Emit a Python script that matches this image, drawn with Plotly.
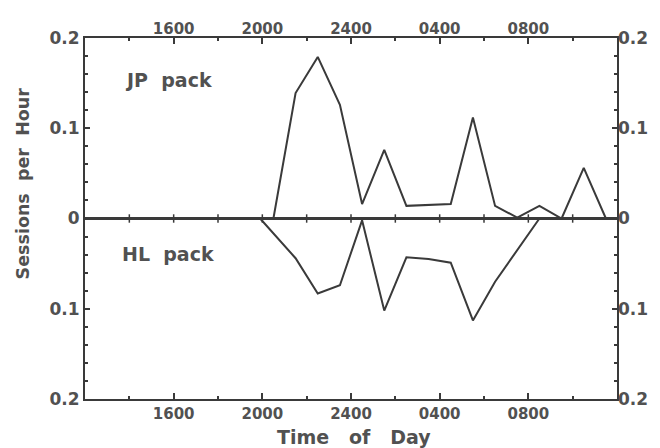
import plotly.graph_objects as go

# ---- data (hours measured from noon of day 1; 24 = midnight) ----
jp_hours = [20.5, 21.5, 22.5, 23.5, 24.5, 25.5, 26.5, 27.5, 28.5, 29.5, 30.5, 31.5, 32.5, 33.5, 34.5, 35.5]
jp_sessions = [0.0, 0.139, 0.179, 0.126, 0.016, 0.076, 0.014, 0.015, 0.016, 0.112, 0.014, 0.001, 0.014, 0.0, 0.056, 0.0]

hl_hours = [19.9, 21.5, 22.5, 23.5, 24.5, 25.5, 26.5, 27.5, 28.5, 29.5, 30.5, 31.5, 32.5]
hl_sessions = [0.0, 0.044, 0.083, 0.074, 0.002, 0.102, 0.043, 0.045, 0.049, 0.113, 0.070, 0.035, 0.0]

x_tick_vals = [16, 20, 24, 28, 32]
x_tick_text = ["1600", "2000", "2400", "0400", "0800"]
y_tick_vals = [-0.2, -0.1, 0, 0.1, 0.2]
y_tick_text = ["0.2", "0.1", "0", "0.1", "0.2"]
zero_line_ticks = [14, 16, 18, 20, 22, 24, 26, 28, 30, 32, 34]

INK = "#3a3a3a"
TXT = "#515151"
FONT = "DejaVu Sans"

fig = go.Figure()

fig.add_trace(go.Scatter(x=jp_hours, y=jp_sessions, mode="lines",
                         line=dict(color=INK, width=2), showlegend=False,
                         hoverinfo="skip"))
fig.add_trace(go.Scatter(x=hl_hours, y=[-v for v in hl_sessions], mode="lines",
                         line=dict(color=INK, width=2), showlegend=False,
                         hoverinfo="skip"))
# small tick marks along the zero line
fig.add_trace(go.Scatter(x=zero_line_ticks, y=[0] * len(zero_line_ticks), mode="markers",
                         marker=dict(symbol="line-ns", size=6,
                                     line=dict(color=INK, width=1.5)),
                         showlegend=False, hoverinfo="skip"))
# invisible trace on secondary axes
fig.add_trace(go.Scatter(x=[12, 36], y=[-0.2, 0.2], mode="markers",
                         marker=dict(opacity=0), xaxis="x2", yaxis="y2",
                         showlegend=False, hoverinfo="skip"))

xfont = dict(family=FONT, size=15, color=TXT, weight="bold")
yfont = dict(family=FONT, size=17, color=TXT, weight="bold")
lblfont = dict(family=FONT, size=19, color=TXT, weight="bold")

fig.update_layout(
    width=652, height=440,
    margin=dict(l=77, r=31, t=30, b=49),
    paper_bgcolor="white", plot_bgcolor="white",
    xaxis=dict(range=[12, 36], tickvals=x_tick_vals, ticktext=x_tick_text,
               ticklen=6, mirror="allticks",
               minor=dict(tick0=12, dtick=2, ticklen=3, ticks="inside",
                          tickcolor=INK, tickwidth=1.5),
               zeroline=False, showgrid=False, ticks="inside", tickcolor=INK,
               tickwidth=1.5, showline=True, linecolor=INK, linewidth=2,
               tickfont=xfont),
    xaxis2=dict(range=[12, 36], overlaying="x", side="top",
                tickvals=x_tick_vals, ticktext=x_tick_text,
                ticks="", showline=False, showgrid=False, zeroline=False,
                tickfont=xfont),
    yaxis=dict(range=[-0.2, 0.2], tickvals=y_tick_vals, ticktext=y_tick_text,
               ticklen=5, mirror="allticks",
               minor=dict(tick0=0, dtick=0.02, ticklen=3, ticks="inside",
                          tickcolor=INK, tickwidth=1.5),
               zeroline=True, zerolinecolor=INK, zerolinewidth=2.5,
               showgrid=False, showline=True, linecolor=INK, linewidth=2,
               ticks="inside", tickcolor=INK, tickwidth=1.5,
               tickfont=yfont),
    yaxis2=dict(range=[-0.2, 0.2], overlaying="y", side="right",
                tickvals=y_tick_vals, ticktext=y_tick_text,
                ticks="", showline=False, showgrid=False, zeroline=False,
                tickfont=yfont),
    annotations=[
        dict(x=13.7, y=0.154, xref="x", yref="y", text="JP\u00a0\u00a0pack",
             showarrow=False, xanchor="left", yanchor="middle", font=lblfont),
        dict(x=13.6, y=-0.039, xref="x", yref="y", text="HL\u00a0\u00a0pack",
             showarrow=False, xanchor="left", yanchor="middle", font=lblfont),
        dict(x=0.506, y=-0.104, xref="paper", yref="paper",
             text="Time\u00a0\u00a0\u00a0of\u00a0\u00a0\u00a0Day",
             showarrow=False, xanchor="center", yanchor="middle", font=lblfont),
        dict(x=-0.116, y=0.598, xref="paper", yref="paper",
             text="Sessions\u00a0\u00a0per\u00a0\u00a0Hour", textangle=-90,
             showarrow=False, xanchor="center", yanchor="middle",
             font=dict(family=FONT, size=17.5, color=TXT, weight="bold")),
    ],
)

fig.write_html("out.html")
